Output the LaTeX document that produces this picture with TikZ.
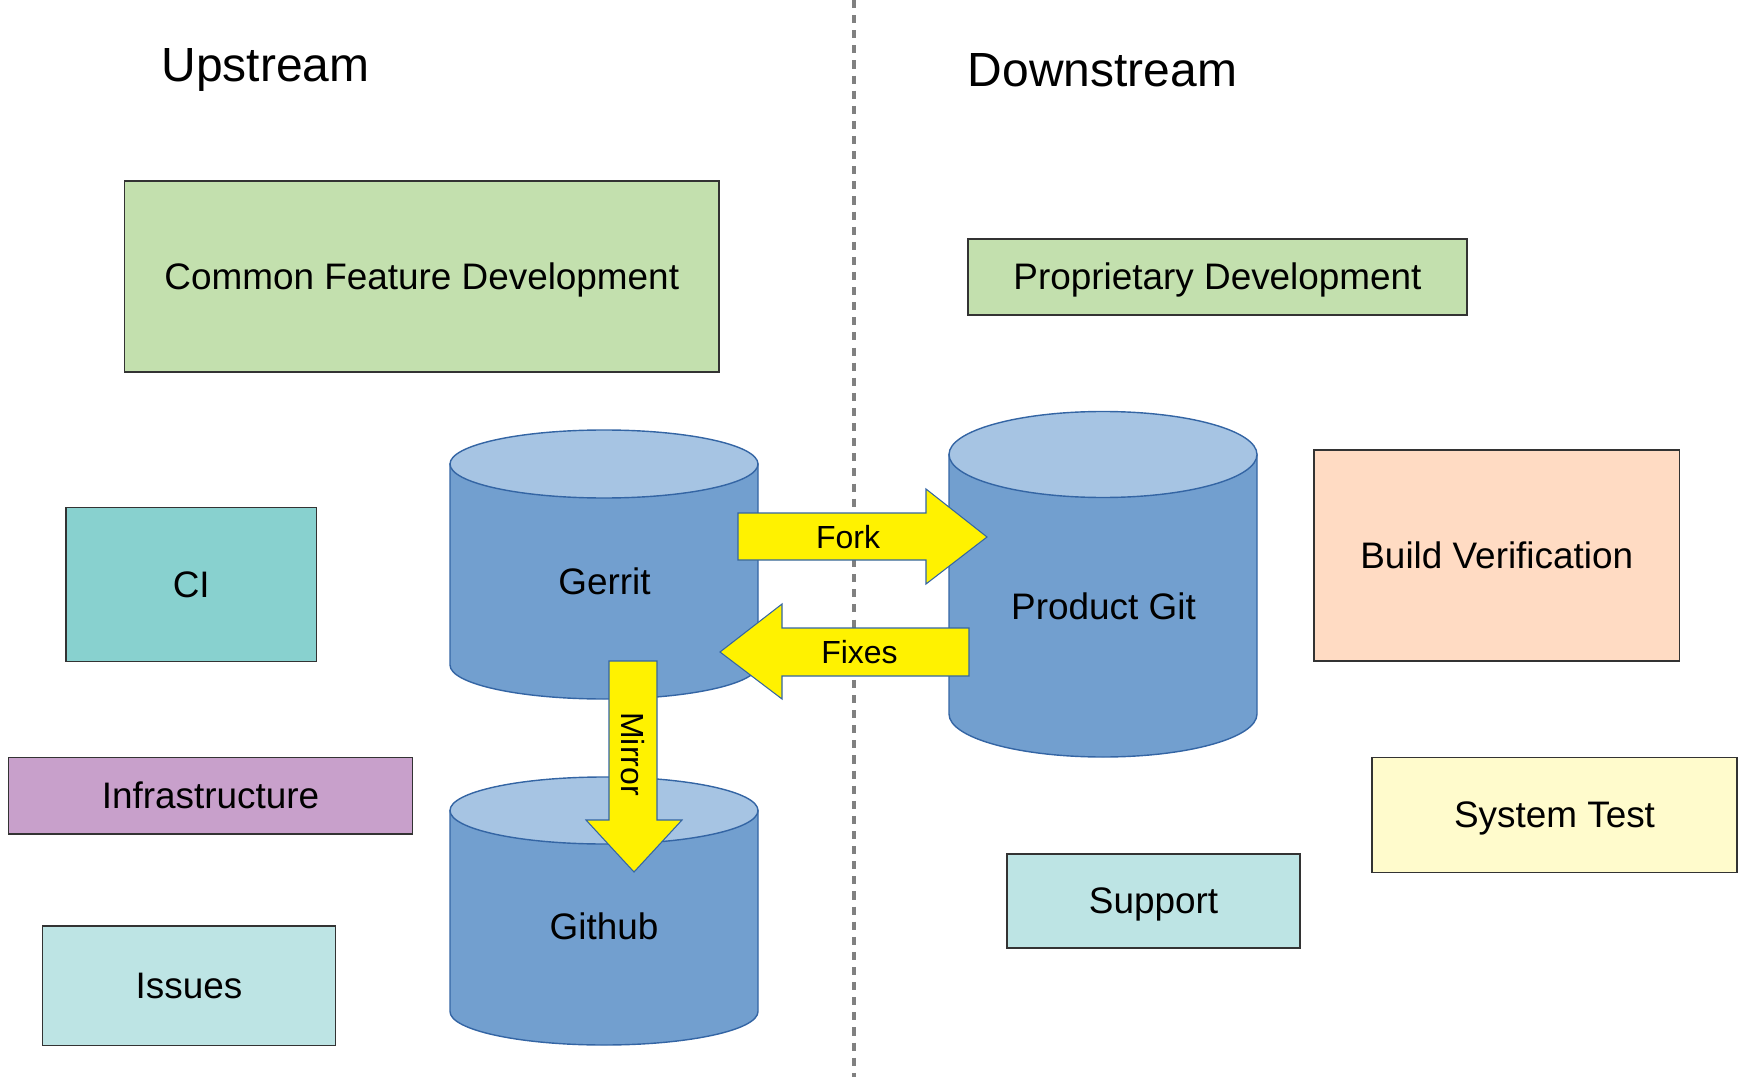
\documentclass[tikz,border=0pt]{standalone}
\usepackage{fontspec}
\setmainfont{Liberation Sans}
\definecolor{devgreen}{HTML}{C3E0AE}
\definecolor{citeal}{HTML}{88D1CF}
\definecolor{infralilac}{HTML}{C8A0CB}
\definecolor{paleteal}{HTML}{BDE4E4}
\definecolor{peach}{HTML}{FFDBC3}
\definecolor{paleyellow}{HTML}{FFFBCC}
\definecolor{dbbody}{HTML}{729FCF}
\definecolor{dbtop}{HTML}{A6C4E3}
\definecolor{dbline}{HTML}{3465A4}
\definecolor{arrowyellow}{HTML}{FFF200}
\tikzstyle{box} = [draw=black!80, line width=0.8pt, inner sep=0pt, font=\fontsize{21}{25}\selectfont, text height=19pt, text depth=4.5pt]
\tikzstyle{lbl} = [font=\fontsize{21}{25}\selectfont, text height=19pt, text depth=4.5pt]
\tikzstyle{arrlbl} = [font=\fontsize{18.2}{22}\selectfont, text height=16.5pt, text depth=3.9pt]
\tikzstyle{title} = [font=\fontsize{27.3}{32}\selectfont, anchor=base]
\tikzstyle{cylbody} = [fill=dbbody, draw=dbline, line width=0.8pt]
\tikzstyle{cyltop} = [fill=dbtop, draw=dbline, line width=0.8pt]
\tikzstyle{blockarrow} = [fill=arrowyellow, draw=dbline, line width=0.6pt]
% cylinder: centre x, top y, bottom y, x radius, y radius
\newcommand{\dbcyl}[5]{
	\filldraw[cylbody] (#1-#4,#2) -- (#1-#4,#3) arc[start angle=180, end angle=0, x radius=#4, y radius=#5] -- (#1+#4,#2) -- cycle;
	\filldraw[cyltop] (#1,#2) ellipse[x radius=#4, y radius=#5];
}

\begin{document}
\begin{tikzpicture}[x=0.02cm, y=-0.02cm]
	\useasboundingbox (0,0) rectangle (1743,1077);
	% divider
	\draw[gray, line width=2.3pt, dash pattern=on 4.6pt off 4pt] (854,0) -- (854,1077);
	\node[title] (up) at (265.5,82) {Upstream};
	\node[title] (down) at (1102.5,86.5) {Downstream};
	% upstream boxes
	\node[box, fill=devgreen, minimum width=11.89cm, minimum height=3.82cm] (common) at (421.75,276.5) {Common Feature Development};
	\node[box, fill=citeal, minimum width=5.01cm, minimum height=3.08cm] (ci) at (191.25,584.5) {CI};
	\node[box, fill=infralilac, minimum width=8.08cm, minimum height=1.53cm] (infra) at (210.5,795.75) {Infrastructure};
	\node[box, fill=paleteal, minimum width=5.86cm, minimum height=2.39cm] (issues) at (189,985.75) {Issues};
	% downstream boxes
	\node[box, fill=devgreen, minimum width=9.98cm, minimum height=1.52cm] (propr) at (1217.5,277) {Proprietary Development};
	\node[box, fill=peach, minimum width=7.31cm, minimum height=4.22cm] (build) at (1496.75,555.5) {Build Verification};
	\node[box, fill=paleyellow, minimum width=7.3cm, minimum height=2.3cm] (systest) at (1554.5,815) {System Test};
	\node[box, fill=paleteal, minimum width=5.86cm, minimum height=1.88cm] (support) at (1153.5,901) {Support};
	% repositories
	\dbcyl{604}{464}{665}{154}{34}
	\dbcyl{604}{810.5}{1011.5}{154}{33.5}
	\dbcyl{1103}{454.5}{714}{154}{43}
	\node[lbl] (gerrit) at (604.5,581.5) {Gerrit};
	\node[lbl] (github) at (604,927) {Github};
	\node[lbl] (product) at (1103.5,606.5) {Product Git};
	% block arrows
	\filldraw[blockarrow] (738,513) -- (926,513) -- (926,489) -- (987,537) -- (926,584) -- (926,560) -- (738,560) -- cycle;
	\filldraw[blockarrow] (969,628) -- (782,628) -- (782,604) -- (720,652) -- (782,699) -- (782,676) -- (969,676) -- cycle;
	\filldraw[blockarrow] (609,661) -- (657,661) -- (657,820) -- (682,820) -- (634,872) -- (586,820) -- (609,820) -- cycle;
	\node[arrlbl] (fork) at (848,537) {Fork};
	\node[arrlbl] (fixes) at (859.5,652) {Fixes};
	\node[arrlbl, rotate=-90] (mirror) at (633,754) {Mirror};
\end{tikzpicture}
\end{document}
